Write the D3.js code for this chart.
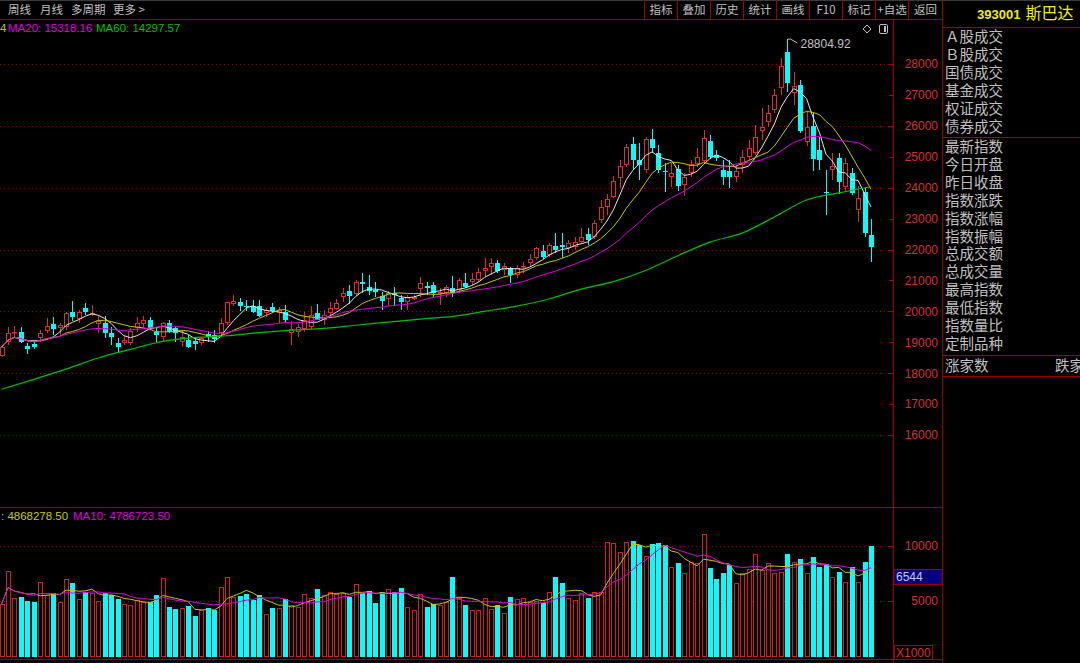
<!DOCTYPE html>
<html><head><meta charset="utf-8">
<script src="https://cdn.jsdelivr.net/npm/d3@7"></script>
<style>
html,body{margin:0;padding:0;background:#000;overflow:hidden}
svg{display:block}
</style></head><body>
<svg id="c" width="1080" height="663"></svg>
<script>
// ---------- data ----------
const opens  = [18550,19014,19284,19337,18874,18928,19122,19370,19575,19445,19499,19985,19737,20093,19880,19575,19607,19284,18960,18960,
18960,19467,19575,19715,19337,19176,19607,19445,19014,19068,19036,18960,19251,19230,19284,19607,20233,20287,20168,20168,
20168,19931,20147,19953,19984,19290,19336,19444,19498,19930,19714,19952,20070,20469,20653,20545,20955,20793,20685,20502,
20415,20577,20437,20307,20415,20707,20815,20847,20556,20577,20761,20685,20901,20955,21009,21312,21441,21549,21333,21387,
21171,21420,21549,21711,21960,21819,22110,22142,22035,22067,22256,22504,22418,22957,23388,23711,24304,24735,25414,24897,
24573,25565,25134,24541,24336,24595,24088,24466,24767,24875,25522,25058,24573,24541,24358,24735,25004,25134,25845,26136,
26513,27213,28399,27073,27321,25489,25996,25220,23873,24573,24950,24013,24466,23280,23873,22472];
const highs  = [18906,19499,19521,19499,18960,19046,19391,19769,19823,19629,19963,20330,20039,20255,20201,19845,19845,19499,19122,19230,
19445,19823,19845,19823,19499,19661,19715,19499,19391,19230,19122,19176,19370,19391,19769,20309,20524,20416,20363,20363,
20363,20093,20255,20147,20199,19680,19606,19984,20167,20232,20038,20307,20415,20739,20847,21009,21247,21171,20955,20631,
20664,20793,20523,20523,20523,21117,20955,20955,20739,20847,21139,21063,21225,21225,21387,21711,21711,21657,21549,21441,
21495,21603,21851,22088,22142,22196,22541,22541,22304,22412,22688,22688,22957,23603,23797,24379,24897,25414,25651,25457,
25651,25888,25381,24789,24789,24735,24466,24897,25274,25866,25705,25220,24897,24897,24735,25220,25543,26028,26567,26675,
27181,28183,28804.92,27752,27483,26459,26405,25651,24573,25112,25112,24950,24627,24056,23981,22978];
const lows   = [18507,18906,19122,18960,18615,18766,19014,19284,19230,19230,19391,19694,19607,19877,19845,19284,19122,18906,18658,18906,
18906,19337,19499,19391,19014,19014,19284,19014,18852,18798,18744,18906,19014,18960,19176,19553,20168,20017,20017,19931,
19801,19823,19931,19607,19660,18900,19174,19336,19444,19714,19552,19876,20038,20307,20232,20502,20577,20523,20469,20038,
20167,20167,20038,20038,20361,20469,20523,20469,20199,20469,20469,20577,20739,20847,20955,21117,21171,21225,21171,20901,
21063,21225,21441,21657,21678,21765,21873,21711,21873,21981,22202,22149,22332,22849,23119,23657,23981,24681,24573,24250,
24466,25112,24466,23873,24034,23905,23733,24358,24681,24810,24918,24850,24088,23981,24196,24466,24897,25058,25543,25953,
26405,26998,27106,26675,25759,25349,24552,24573,23119,24250,23797,23873,23765,22903,22418,21610];
const closes = [18852,19284,19337,19014,18766,18852,19284,19532,19413,19553,19931,19801,19963,19963,19950,19683,19305,19154,18852,19068,
19370,19607,19715,19445,19230,19607,19337,19284,19176,18852,18928,19122,19154,19090,19607,20287,20341,20168,20125,19985,
19845,20039,20017,20039,19714,19420,19498,19714,19876,19735,19876,20092,20275,20599,20491,20955,20880,20653,20620,20340,
20577,20523,20286,20469,20469,20901,20739,20577,20631,20772,20577,21009,20793,21031,21279,21387,21549,21312,21463,21171,
21387,21463,21678,22035,21765,22142,22000,22067,22196,22250,22418,22310,22871,23388,23625,24228,24703,25328,24897,24724,
25565,25274,24573,24498,24487,24056,24358,24767,24983,25597,25004,24950,24336,24336,24541,25004,25274,25651,25953,26427,
26998,27935,27375,27289,25845,25953,24918,24897,23819,24703,24196,24789,23819,23657,22526,22095];
const volumes = [4729,7709,5240,5391,5030,4939,6746,5541,5692,4939,6956,6655,5180,5842,5692,5000,5752,5511,5180,4729,
4638,5090,4939,4939,5511,7047,4427,4246,4337,4578,3644,4186,4337,4186,6234,7197,5331,5451,5601,5090,
5511,3825,4337,4337,5150,4638,4487,5601,5240,6113,5541,5782,5632,5692,5331,6535,5692,5933,4849,5782,
6083,5782,6204,4487,4156,5601,4487,4729,4638,4939,7136,5239,4636,4184,4184,5239,4245,4636,3883,5329,
5148,5239,4937,5027,4787,5781,7136,6594,5239,5088,5691,5239,5841,5841,10359,10209,9396,10359,10449,10058,
9094,10149,10269,10058,8040,8402,7498,8552,8402,11022,7980,6956,7558,8251,6594,7498,7859,9245,7799,8402,
7498,7648,9245,8552,8793,7498,8944,8040,8311,7197,7648,6744,8040,6685,8492,9968];
// MA60 every 5th bar (history before the window is not shown)
const ma60Step = 5;
const ma60 = [17480,17800,18130,18490,18770,19030,19150,19210,19310,19390,19450,19550,19650,19750,19840,20000,20170,20400,20720,20960,
21320,21800,22240,22530,23050,23600,23830,24030];
const priceTicks = [16000,17000,18000,19000,20000,21000,22000,23000,24000,25000,26000,27000,28000];
const priceGrid = [16000,18000,20000,22000,24000,26000,28000];
const volTicks = [5000,10000];
const volMarker = 6544;
const toolbarLeft = ["周线","月线","多周期","更多 >"];
const toolbarLeftX = [8,40,71,113];
const toolbarRight = ["指标","叠加","历史","统计","画线","F10","标记","+自选","返回"];
const panelGroup1 = ["Ａ股成交","Ｂ股成交","国债成交","基金成交","权证成交","债券成交"];
const panelGroup2 = ["最新指数","今日开盘","昨日收盘","指数涨跌","指数涨幅","指数振幅","总成交额","总成交量","最高指数","最低指数","指数量比","定制品种"];

// ---------- helpers ----------
function ma(arr, n){ return arr.map((d,i)=>{ const s=arr.slice(Math.max(0,i-n+1), i+1); return d3.mean(s); }); }

const svg = d3.select('#c');
const RED = '#e82828', VRED = '#d41e1e', CYAN = '#00ffff', FRAME = '#a00000', AX = '#d83030', GRAY = '#c0c0c0';
const FONT = 'Arial, "Liberation Sans", sans-serif';
const CJK = '"Noto Sans CJK SC", sans-serif';
svg.append('rect').attr('width',1080).attr('height',663).attr('fill','#000');

const N = closes.length;
const x = d3.scaleLinear().domain([0, N-1]).range([1.6, 1.6 + 6.44*(N-1)]);
const yP = d3.scaleLinear().domain([16000, 28000]).range([435, 64]);
const yV = d3.scaleLinear().domain([0, 10000]).range([656.3, 545.7]);

const defs = svg.append('defs');
defs.append('clipPath').attr('id','clipP').append('rect').attr('x',0).attr('y',21).attr('width',893).attr('height',486);
defs.append('clipPath').attr('id','clipV').append('rect').attr('x',0).attr('y',508).attr('width',893).attr('height',150);

// ---------- frame ----------
const fr = svg.append('g').attr('fill','none').attr('stroke',FRAME).attr('stroke-width',1);
fr.append('line').attr('x1',0).attr('x2',1080).attr('y1',0.5).attr('y2',0.5).attr('stroke','#3a3a3a');
fr.append('line').attr('x1',0).attr('x2',942).attr('y1',19.5).attr('y2',19.5);
fr.append('line').attr('x1',0).attr('x2',942).attr('y1',507.5).attr('y2',507.5);
fr.append('line').attr('x1',0).attr('x2',942).attr('y1',659.5).attr('y2',659.5);
fr.append('line').attr('x1',893.5).attr('x2',893.5).attr('y1',20).attr('y2',663);
fr.append('line').attr('x1',942.5).attr('x2',942.5).attr('y1',0).attr('y2',663);
[27.5,137.5,355.5,376.5].forEach(y=>fr.append('line').attr('x1',942).attr('x2',1080).attr('y1',y).attr('y2',y));

// toolbar
const sepX = [644,677,710,743,776,809,842,875,908];
sepX.forEach(s=>fr.append('line').attr('x1',s+0.5).attr('x2',s+0.5).attr('y1',0).attr('y2',19));
svg.selectAll('.tl').data(toolbarLeft).enter().append('text')
  .attr('x',(d,i)=>toolbarLeftX[i]).attr('y',14).attr('fill',GRAY).attr('font-size','11.5px').attr('font-family',CJK).text(d=>d);
svg.selectAll('.tr').data(toolbarRight).enter().append('text')
  .attr('x',(d,i)=>((i<8?sepX[i+1]:942)+sepX[i])/2+0.5).attr('y',14).attr('text-anchor','middle')
  .attr('fill',GRAY).attr('font-size','11.5px').attr('font-family',CJK).text(d=>d);

// header of right panel
const hd = svg.append('text').attr('x',977).attr('y',19).attr('fill','#f0f000');
hd.append('tspan').attr('font-family',FONT).attr('font-weight','bold').attr('font-size','13px').text('393001');
hd.append('tspan').attr('dx',5).attr('font-family',CJK).attr('font-size','16px').text('斯巴达');

svg.selectAll('.p1').data(panelGroup1).enter().append('text')
  .attr('x',945).attr('y',(d,i)=>41.5+i*18).attr('fill',GRAY).attr('font-size','14.5px').attr('font-family',CJK).text(d=>d);
svg.selectAll('.p2').data(panelGroup2).enter().append('text')
  .attr('x',945).attr('y',(d,i)=>152+i*17.9).attr('fill',GRAY).attr('font-size','14.5px').attr('font-family',CJK).text(d=>d);
svg.append('text').attr('x',945).attr('y',371).attr('fill',GRAY).attr('font-size','14.5px').attr('font-family',CJK).text('涨家数');
svg.append('text').attr('x',1055).attr('y',371).attr('fill',GRAY).attr('font-size','14.5px').attr('font-family',CJK).text('跌家');

// icons
svg.append('path').attr('d','M867,25 L871,29 L867,33 L863,29 Z').attr('fill','none').attr('stroke',GRAY);
svg.append('rect').attr('x',879.5).attr('y',24.5).attr('width',8).attr('height',9).attr('rx',1.5).attr('fill','none').attr('stroke',GRAY);
svg.append('rect').attr('x',884).attr('y',26).attr('width',2).attr('height',6).attr('fill',GRAY);

// ---------- price grid / axis ----------
const gg = svg.append('g');
gg.selectAll('line.g').data(priceGrid).enter().append('line')
  .attr('x1',0).attr('x2',889).attr('y1',d=>Math.round(yP(d))+0.5).attr('y2',d=>Math.round(yP(d))+0.5)
  .attr('stroke',FRAME).attr('stroke-dasharray','1,3');
gg.selectAll('line.t').data(priceTicks).enter().append('line')
  .attr('x1',889).attr('x2',893).attr('y1',d=>Math.round(yP(d))+0.5).attr('y2',d=>Math.round(yP(d))+0.5).attr('stroke',FRAME);
const axP = svg.append('g').attr('transform','translate(938,0)')
  .call(d3.axisLeft(yP).tickValues(priceTicks).tickSize(0).tickPadding(0).tickFormat(d3.format('d')));
axP.select('.domain').remove();
axP.selectAll('text').attr('fill',AX).attr('font-size','12px').attr('font-family',FONT);

// volume grid / axis
gg.selectAll('line.vg').data(volTicks).enter().append('line')
  .attr('x1',0).attr('x2',889).attr('y1',d=>Math.round(yV(d))+0.5).attr('y2',d=>Math.round(yV(d))+0.5)
  .attr('stroke',FRAME).attr('stroke-dasharray','1,3');
gg.selectAll('line.vt').data(volTicks).enter().append('line')
  .attr('x1',889).attr('x2',893).attr('y1',d=>Math.round(yV(d))+0.5).attr('y2',d=>Math.round(yV(d))+0.5).attr('stroke',FRAME);
const axV = svg.append('g').attr('transform','translate(938,0)')
  .call(d3.axisLeft(yV).tickValues(volTicks).tickSize(0).tickPadding(0).tickFormat(d3.format('d')));
axV.select('.domain').remove();
axV.selectAll('text').attr('fill',AX).attr('font-size','12px').attr('font-family',FONT);

// ---------- candles ----------
const data = closes.map((c,i)=>({i, o:opens[i], h:highs[i], l:lows[i], c, v:volumes[i]}));
const gc = svg.append('g').attr('clip-path','url(#clipP)');
data.forEach(d=>{
  const cx = Math.round(x(d.i));
  const up = d.c >= d.o;
  const col = up ? RED : CYAN;
  const yt = Math.round(yP(Math.max(d.o,d.c))), yb = Math.max(Math.round(yP(Math.min(d.o,d.c))), yt+1);
  const yh = Math.round(yP(d.h)), yl = Math.round(yP(d.l));
  if (up) {
    gc.append('line').attr('x1',cx+0.5).attr('x2',cx+0.5).attr('y1',yh).attr('y2',yt).attr('stroke',col);
    gc.append('line').attr('x1',cx+0.5).attr('x2',cx+0.5).attr('y1',yb).attr('y2',yl).attr('stroke',col);
    gc.append('rect').attr('x',cx-1.5).attr('y',yt+0.5).attr('width',4).attr('height',Math.max(yb-yt-1,0.5))
      .attr('fill','#000').attr('stroke',col);
  } else {
    gc.append('line').attr('x1',cx+0.5).attr('x2',cx+0.5).attr('y1',yh).attr('y2',yl).attr('stroke',col);
    gc.append('rect').attr('x',cx-2).attr('y',yt).attr('width',5).attr('height',Math.max(yb-yt,1)).attr('fill',col);
  }
});

// MA lines
const lineP = d3.line().x((d,i)=>x(i)).y(d=>yP(d));
[[ma(closes,5),'#e8e8e8'],[ma(closes,10),'#c8c800'],[ma(closes,20),'#e000e0']].forEach(([arr,c])=>{
  gc.append('path').attr('d',lineP(arr)).attr('fill','none').attr('stroke',c).attr('stroke-width',1);
});
gc.append('path').attr('d', d3.line().x((d,k)=>x(k*ma60Step)).y(d=>yP(d)).curve(d3.curveMonotoneX)(ma60))
  .attr('fill','none').attr('stroke','#00c000').attr('stroke-width',1.2);

// peak label
const pk = d3.maxIndex(highs);
const px = Math.round(x(pk))+0.5, py = yP(highs[pk]);
svg.append('path').attr('d',`M${px},${py} l3,0 l7,4`).attr('fill','none').attr('stroke',GRAY);
svg.append('text').attr('x',px+13).attr('y',py+9).attr('fill',GRAY).attr('font-size','12px').attr('font-family',FONT)
  .text(d3.format('.2f')(highs[pk]));

// legends
svg.append('text').attr('x',0).attr('y',32).attr('fill','#c8c800').attr('font-size','11.5px').attr('font-family',FONT).text('4');
svg.append('text').attr('x',8).attr('y',32).attr('fill','#e000e0').attr('font-size','11.5px').attr('font-family',FONT).text('MA20: 15318.16');
svg.append('text').attr('x',96).attr('y',32).attr('fill','#00c000').attr('font-size','11.5px').attr('font-family',FONT).text('MA60: 14297.57');
svg.append('text').attr('x',1).attr('y',520).attr('fill','#c8c800').attr('font-size','11.5px').attr('font-family',FONT).text(': 4868278.50');
svg.append('text').attr('x',73).attr('y',520).attr('fill','#e000e0').attr('font-size','11.5px').attr('font-family',FONT).text('MA10: 4786723.50');

// ---------- volume ----------
const gv = svg.append('g').attr('clip-path','url(#clipV)');
const y0 = Math.round(yV(0));
data.forEach(d=>{
  const cx = Math.round(x(d.i));
  const up = d.c >= d.o;
  const yt = Math.round(yV(d.v));
  if (up) gv.append('rect').attr('x',cx-1.5).attr('y',yt+0.5).attr('width',4).attr('height',y0-yt).attr('fill','#000').attr('stroke',VRED);
  else gv.append('rect').attr('x',cx-2).attr('y',yt).attr('width',5).attr('height',y0-yt+1).attr('fill',CYAN);
});
const lineV = d3.line().x((d,i)=>x(i)).y(d=>yV(d));
gv.append('path').attr('d',lineV(ma(volumes,5))).attr('fill','none').attr('stroke','#c8c800');
gv.append('path').attr('d',lineV(ma(volumes,10))).attr('fill','none').attr('stroke','#e000e0');

// volume marker box & unit box
const mb = Math.round(yV(volMarker));
svg.append('rect').attr('x',894).attr('y',mb-14.5).attr('width',48).attr('height',15).attr('fill','#000080').attr('stroke',FRAME);
svg.append('text').attr('x',896).attr('y',mb-3).attr('fill','#c8c8e8').attr('font-size','12px').attr('font-family',FONT).text(volMarker);
svg.append('rect').attr('x',894.5).attr('y',645.5).attr('width',38).attr('height',14).attr('fill','#000').attr('stroke',FRAME);
svg.append('text').attr('x',896).attr('y',657).attr('fill',AX).attr('font-size','12px').attr('font-family',FONT).text('X1000');
</script>
</body></html>
